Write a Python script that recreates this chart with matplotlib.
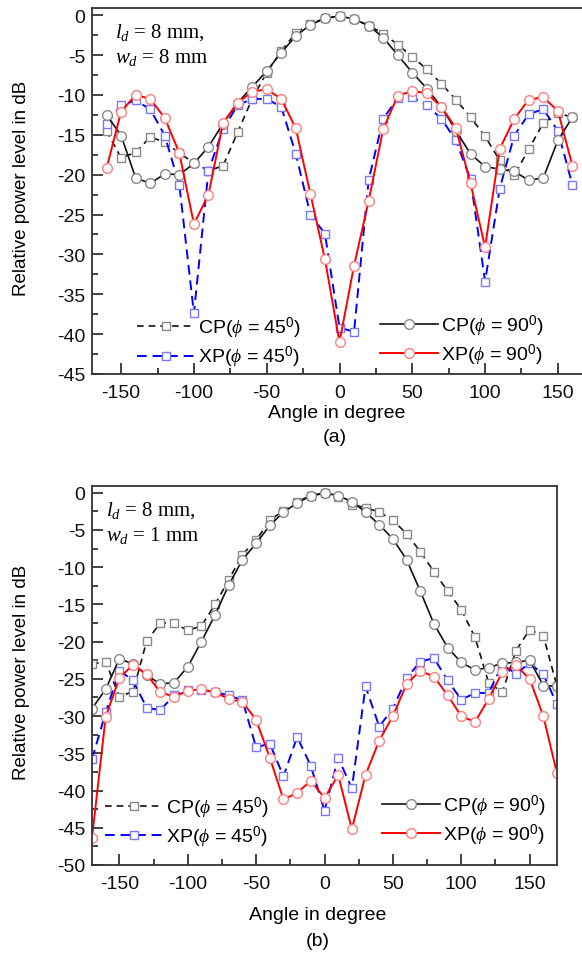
import numpy as np
import matplotlib
matplotlib.use('Agg')
import matplotlib.pyplot as plt
import matplotlib.ticker as tkr

plt.rcParams['font.family'] = ['Liberation Sans', 'DejaVu Sans']
plt.rcParams['mathtext.fontset'] = 'custom'
plt.rcParams['mathtext.rm'] = 'Liberation Sans'
plt.rcParams['mathtext.it'] = 'Liberation Serif:italic'
plt.rcParams['axes.unicode_minus'] = False

# ---- panel (a): l_d = 8 mm, w_d = 8 mm ----
ang_a = [-160, -150, -140, -130, -120, -110, -100, -90, -80, -70, -60, -50, -40,
         -30, -20, -10, 0, 10, 20, 30, 40, 50, 60, 70, 80, 90, 100, 110, 120,
         130, 140, 150, 160]
cp45_a = [-14.5, -17.9, -17.2, -15.3, -15.9, -17.3, -18.5, -19.5, -18.9, -14.7,
          -10.5, -7.2, -4.5, -2.2, -1.1, -0.4, -0.1, -0.5, -1.3, -2.3, -3.7,
          -5.2, -6.8, -8.6, -10.6, -12.8, -15.2, -18.2, -20.1, -16.8, -13.5,
          -12.3, -12.8]
cp90_a = [-12.5, -15.1, -20.4, -21.1, -19.9, -20.0, -18.6, -16.5, -13.6, -11.0,
          -9.0, -7.0, -4.7, -2.6, -1.2, -0.4, -0.1, -0.5, -1.3, -2.8, -5.0,
          -7.2, -9.2, -11.5, -14.5, -17.4, -19.0, -19.3, -19.6, -20.7, -20.4,
          -15.7, -12.8]
xp45_a = [-13.6, -11.3, -10.7, -11.8, -15.1, -21.3, -37.4, -19.5, -14.3, -11.3,
          -10.5, -10.5, -11.5, -17.4, -25.0, -27.4, -39.2, -39.7, -20.7, -13.0,
          -10.4, -10.3, -11.3, -13.0, -15.7, -20.6, -33.4, -21.8, -15.1, -12.4,
          -11.8, -14.5, -21.3]
xp90_a = [-19.2, -12.1, -10.0, -10.5, -12.9, -17.3, -26.2, -22.5, -13.5, -11.0,
          -9.6, -9.3, -10.5, -14.2, -22.4, -30.6, -41.0, -31.4, -23.3, -14.3,
          -10.1, -9.5, -9.8, -11.5, -14.2, -21.1, -29.1, -16.8, -13.0, -10.6,
          -10.3, -12.0, -18.9]

# ---- panel (b): l_d = 8 mm, w_d = 1 mm ----
ang_b = [-170, -160, -150, -140, -130, -120, -110, -100, -90, -80, -70, -60,
         -50, -40, -30, -20, -10, 0, 10, 20, 30, 40, 50, 60, 70, 80, 90, 100,
         110, 120, 130, 140, 150, 160, 170]
cp45_b = [-23.0, -22.7, -27.4, -26.7, -19.9, -17.5, -17.5, -18.5, -17.9, -15.0,
          -11.7, -8.3, -6.4, -3.7, -2.4, -1.2, -0.4, -0.1, -0.6, -1.6, -2.0,
          -2.6, -3.7, -5.5, -7.9, -10.6, -13.2, -15.7, -19.4, -25.5, -26.8,
          -21.2, -18.4, -19.2, -26.0]
cp90_b = [-29.0, -26.4, -22.3, -23.0, -24.5, -25.7, -25.5, -23.4, -20.0, -16.4,
          -12.4, -9.0, -6.8, -4.4, -2.6, -1.4, -0.4, 0.0, -0.4, -1.2, -2.6,
          -4.3, -6.2, -9.0, -13.2, -17.6, -20.8, -22.8, -23.8, -23.5, -22.9,
          -22.8, -22.5, -25.9, -26.0]
xp45_b = [-35.8, -29.5, -23.9, -25.2, -28.9, -29.2, -27.2, -26.5, -26.5, -26.8,
          -27.2, -27.9, -34.2, -33.7, -38.1, -32.8, -36.7, -42.7, -35.6, -39.7,
          -26.0, -31.4, -29.0, -24.9, -22.7, -22.2, -25.2, -27.8, -26.9, -26.9,
          -23.1, -24.3, -22.9, -24.4, -28.4]
xp90_b = [-46.4, -30.1, -24.9, -23.1, -24.4, -26.8, -27.4, -26.6, -26.4, -26.8,
          -27.7, -28.1, -30.5, -35.6, -41.2, -40.3, -38.7, -41.0, -37.9, -45.2,
          -37.9, -33.3, -30.0, -25.7, -23.9, -24.7, -27.2, -30.0, -30.8, -27.7,
          -24.1, -23.2, -25.0, -30.0, -37.7]

lbl_cp45 = r'CP($\phi$ = 45$^0$)'
lbl_xp45 = r'XP($\phi$ = 45$^0$)'
lbl_cp90 = r'CP($\phi$ = 90$^0$)'
lbl_xp90 = r'XP($\phi$ = 90$^0$)'

W, H = 582, 962
fig = plt.figure(figsize=(W / 100, H / 100), dpi=100)

def px(l, t, r, b):
    return [l / W, 1 - b / H, (r - l) / W, (b - t) / H]

ax1 = fig.add_axes(px(92, 9, 587, 375))
ax2 = fig.add_axes(px(92, 487, 557, 866))

def draw(ax, ang, cp45, xp45, cp90, xp90):
    ms = 6
    l1, = ax.plot(ang, cp45, color='#111111', ls=(0, (4, 3)), lw=1.2, marker='s',
                  ms=ms, mfc='white', mec='#8a8a8a', mew=1.0)
    l2, = ax.plot(ang, xp45, color='#0000ff', ls=(0, (5, 3)), lw=1.4, marker='s',
                  ms=ms, mfc='white', mec='#7777ff', mew=1.0)
    l3, = ax.plot(ang, cp90, color='#111111', ls='-', lw=1.2, marker='o',
                  ms=ms + 1, mfc='white', mec='#8a8a8a', mew=1.0)
    l4, = ax.plot(ang, xp90, color='#ff0000', ls='-', lw=1.4, marker='o',
                  ms=ms + 1, mfc='white', mec='#ff8080', mew=1.0)
    return l1, l2, l3, l4

h_a = draw(ax1, ang_a, cp45_a, xp45_a, cp90_a, xp90_a)
h_b = draw(ax2, ang_b, cp45_b, xp45_b, cp90_b, xp90_b)

ax1.set_xlim(-170, 170)
ax1.set_ylim(-45, 0.9)
ax2.set_xlim(-170, 170)
ax2.set_ylim(-50, 0.9)

for ax in (ax1, ax2):
    ax.xaxis.set_major_locator(tkr.MultipleLocator(50))
    ax.xaxis.set_minor_locator(tkr.MultipleLocator(25))
    ax.yaxis.set_major_locator(tkr.MultipleLocator(5))
    ax.yaxis.set_minor_locator(tkr.MultipleLocator(2.5))
    ax.tick_params(which='major', direction='in', length=8, width=1.2,
                   labelsize=14, color='#222222', labelcolor='#111111')
    ax.tick_params(axis='x', which='major', pad=7)
    ax.tick_params(axis='y', which='major', pad=5)
    ax.tick_params(which='minor', direction='in', length=4, width=1.2,
                   color='#222222')
    for s in ax.spines.values():
        s.set_linewidth(1.3)
        s.set_color('#333333')

# axis titles placed by pixel so they sit where the reference has them
fig.text(22 / W, 1 - 188 / H, 'Relative power level in dB', rotation=90,
         ha='center', va='center', fontsize=13.5)
fig.text(22 / W, 1 - 672 / H, 'Relative power level in dB', rotation=90,
         ha='center', va='center', fontsize=13.5)
fig.text(337 / W, 1 - 413 / H, 'Angle in degree', ha='center', va='center', fontsize=14)
fig.text(335 / W, 1 - 438 / H, '(a)', ha='center', va='center', fontsize=14)
fig.text(318 / W, 1 - 916 / H, 'Angle in degree', ha='center', va='center', fontsize=14)
fig.text(318 / W, 1 - 942 / H, '(b)', ha='center', va='center', fontsize=14)

# legends, two per panel
legkw = dict(frameon=False, fontsize=14, handlelength=3.0, numpoints=1,
             handletextpad=0.15, labelspacing=0.2, borderaxespad=0.0,
             borderpad=0.0)
la = ax1.legend([h_a[0], h_a[1]], [lbl_cp45, lbl_xp45], loc='lower left',
                bbox_to_anchor=(0.091, 0.013), **legkw)
ax1.add_artist(la)
ax1.legend([h_a[2], h_a[3]], [lbl_cp90, lbl_xp90], loc='lower left',
           bbox_to_anchor=(0.582, 0.02), **legkw)

lb = ax2.legend([h_b[0], h_b[1]], [lbl_cp45, lbl_xp45], loc='lower left',
                bbox_to_anchor=(0.028, 0.042), **legkw)
ax2.add_artist(lb)
ax2.legend([h_b[2], h_b[3]], [lbl_cp90, lbl_xp90], loc='lower left',
           bbox_to_anchor=(0.623, 0.048), **legkw)

# geometry notes
ax1.text(0.047, 0.965, r'$l_d$ = 8 mm,' + '\n' + r'$w_d$ = 8 mm', transform=ax1.transAxes,
         family='Liberation Serif', fontsize=15, va='top', linespacing=1.25)
ax2.text(0.03, 0.965, r'$l_d$ = 8 mm,' + '\n' + r'$w_d$ = 1 mm', transform=ax2.transAxes,
         family='Liberation Serif', fontsize=15, va='top', linespacing=1.25)

fig.savefig('out.png', dpi=100)
